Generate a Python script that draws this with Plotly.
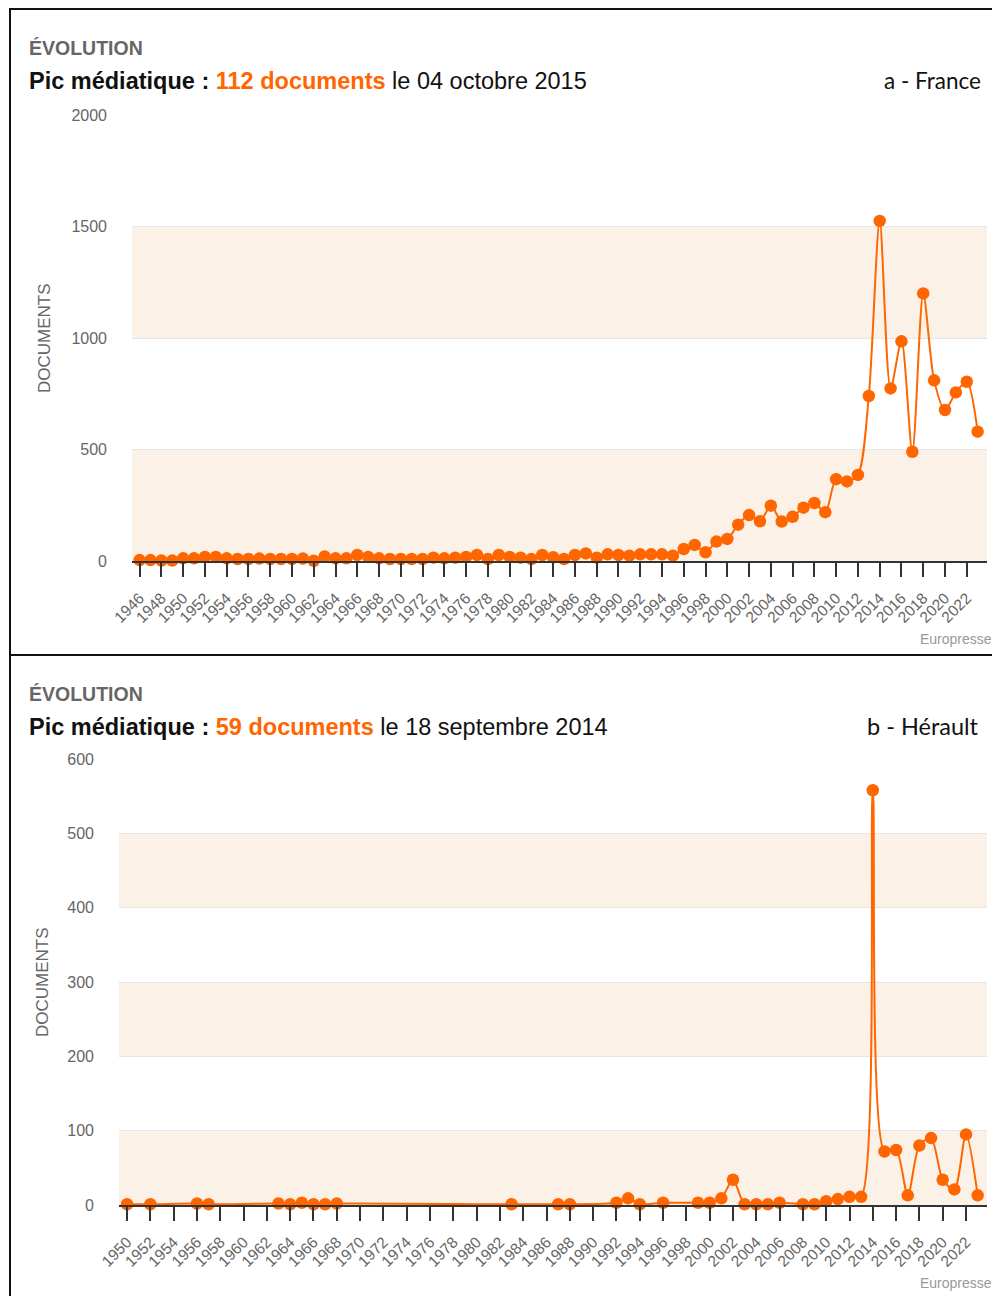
import plotly.graph_objects as go

# ---------------- data ----------------
france_years = list(range(1946, 2024))
france_docs = [4, 4, 2, 2, 12, 12, 18, 18, 12, 9,
               9, 11, 9, 9, 9, 11, 1, 20, 12, 12,
               27, 18, 12, 9, 9, 9, 9, 15, 12, 15,
               18, 27, 9, 27, 18, 15, 9, 27, 17, 9,
               27, 34, 15, 30, 27, 24, 30, 30, 30, 24,
               54, 72, 39, 87, 99, 163, 206, 178, 248, 177,
               198, 239, 260, 219, 367, 357, 386, 740, 1525, 774,
               985, 490, 1200, 810, 677, 756, 804, 580]

herault_years = [1950, 1952, 1956, 1957, 1963, 1964, 1965, 1966, 1967, 1968,
                 1983, 1987, 1988, 1992, 1993, 1994, 1996, 1999, 2000, 2001,
                 2002, 2003, 2004, 2005, 2006, 2008, 2009, 2010, 2011, 2012,
                 2013, 2014, 2015, 2016, 2017, 2018, 2019, 2020, 2021, 2022, 2023]
herault_docs = [1, 1, 2, 1, 2, 1, 3, 1, 1, 2,
                1, 1, 1, 3, 9, 1, 3, 3, 3, 9,
                34, 1, 1, 1, 3, 1, 1, 5, 8, 11,
                11, 558, 72, 74, 13, 80, 90, 34, 21, 95, 13]

france_ticks = list(range(1946, 2023, 2))
herault_ticks = list(range(1950, 2023, 2))
france_yticks = [0, 500, 1000, 1500, 2000]
herault_yticks = [0, 100, 200, 300, 400, 500, 600]
france_bands = [(0, 500), (1000, 1500)]
herault_bands = [(0, 100), (200, 300), (400, 500)]

ORANGE = "#FF6600"
BAND = "#FBF1E6"
GRID = "#E6E6E6"
W, H = 1000, 1296
OFF = 8  # page body margin


def px(x):
    return (x - OFF) / W


def py(y):
    return 1 - (y - OFF) / H


fig = go.Figure()

fig.add_trace(go.Scatter(
    x=france_years, y=france_docs, mode="lines+markers",
    line=dict(color=ORANGE, width=2, shape="spline", smoothing=0.8),
    marker=dict(color=ORANGE, size=12.5),
    cliponaxis=False, xaxis="x", yaxis="y", showlegend=False))

fig.add_trace(go.Scatter(
    x=herault_years, y=herault_docs, mode="lines+markers",
    line=dict(color=ORANGE, width=2, shape="spline", smoothing=0.8),
    marker=dict(color=ORANGE, size=12.5),
    cliponaxis=False, xaxis="x2", yaxis="y2", showlegend=False))

xtickfont = dict(family="Liberation Sans, Arial, sans-serif", size=15.5, color="#666666")
ytickfont = dict(family="Liberation Sans, Arial, sans-serif", size=16, color="#666666")

xcommon = dict(
    tickmode="array", tickangle=-45, ticks="outside", ticklen=14, tickwidth=2,
    tickcolor="#333333", showline=True, linecolor="#333333", linewidth=2,
    showgrid=False, zeroline=False, tickfont=xtickfont, ticklabelstandoff=6,
    automargin=False,
)
ycommon = dict(
    tickmode="array", showgrid=True, gridcolor=GRID, gridwidth=1,
    zeroline=False, showline=False, ticks="", tickfont=ytickfont,
    ticklabelstandoff=24, automargin=False,
)

fig.update_layout(
    width=W, height=H, autosize=False,
    margin=dict(l=0, r=0, t=0, b=0, pad=0),
    paper_bgcolor="white", plot_bgcolor="rgba(0,0,0,0)",
    xaxis=dict(domain=[px(132), px(987)], range=[1945.30, 2023.86],
               tickvals=france_ticks, ticktext=[str(t) for t in france_ticks],
               anchor="y", **xcommon),
    yaxis=dict(domain=[py(561), py(115)], range=[0, 2000],
               tickvals=france_yticks, anchor="x", **ycommon),
    xaxis2=dict(domain=[px(119), px(987)], range=[1949.31, 2023.80],
                tickvals=herault_ticks, ticktext=[str(t) for t in herault_ticks],
                anchor="y2", **xcommon),
    yaxis2=dict(domain=[py(1205), py(759)], range=[0, 600],
                tickvals=herault_yticks, anchor="x2", **ycommon),
)

shapes = []
for lo, hi in france_bands:
    shapes.append(dict(type="rect", xref="x domain", yref="y", x0=0, x1=1, y0=lo, y1=hi,
                       fillcolor=BAND, line=dict(width=0), layer="below"))
for lo, hi in herault_bands:
    shapes.append(dict(type="rect", xref="x2 domain", yref="y2", x0=0, x1=1, y0=lo, y1=hi,
                       fillcolor=BAND, line=dict(width=0), layer="below"))
# panel frames
shapes.append(dict(type="rect", xref="paper", yref="paper",
                   x0=px(10), x1=px(1015), y0=py(655), y1=py(9),
                   line=dict(color="#111111", width=2), fillcolor="rgba(0,0,0,0)"))
shapes.append(dict(type="rect", xref="paper", yref="paper",
                   x0=px(10), x1=px(1015), y0=py(1320), y1=py(655),
                   line=dict(color="#111111", width=2), fillcolor="rgba(0,0,0,0)"))
fig.update_layout(shapes=shapes)

ann = []


def add_panel_text(peak_text, date_text, region, title_y, region_x, region_size):
    ann.append(dict(xref="paper", yref="paper", x=px(27), y=py(title_y - 33),
                    xanchor="left", yanchor="middle", showarrow=False,
                    text="<b>ÉVOLUTION</b>",
                    font=dict(family="Liberation Sans, Arial, sans-serif", size=19.5, color="#666666")))
    ann.append(dict(xref="paper", yref="paper", x=px(27), y=py(title_y),
                    xanchor="left", yanchor="middle", showarrow=False,
                    text=("<b>Pic médiatique : </b><b><span style='color:%s'>%s</span></b> %s"
                          % (ORANGE, peak_text, date_text)),
                    font=dict(family="Liberation Sans, Arial, sans-serif", size=23.5, color="#111111")))
    ann.append(dict(xref="paper", yref="paper", x=px(region_x), y=py(title_y - 1),
                    xanchor="right", yanchor="middle", showarrow=False,
                    text=region,
                    font=dict(family="Lato, Open Sans, sans-serif", size=region_size, color="#111111")))


add_panel_text("112 documents", "le 04 octobre 2015", "a - France", 81, 983, 22.5)
add_panel_text("59 documents", "le 18 septembre 2014", "b - Hérault", 727, 981, 23.5)

for yc, xc in [(338, 44), (982, 42)]:
    ann.append(dict(xref="paper", yref="paper", x=px(xc), y=py(yc),
                    xanchor="center", yanchor="middle", showarrow=False, textangle=-90,
                    text="DOCUMENTS",
                    font=dict(family="Liberation Sans, Arial, sans-serif", size=17, color="#666666")))
for ye in [639, 1283]:
    ann.append(dict(xref="paper", yref="paper", x=px(918), y=py(ye),
                    xanchor="left", yanchor="middle", showarrow=False,
                    text="Europresse",
                    font=dict(family="Liberation Sans, Arial, sans-serif", size=14, color="#999999")))

fig.update_layout(annotations=ann)

fig.write_html("out.html")
